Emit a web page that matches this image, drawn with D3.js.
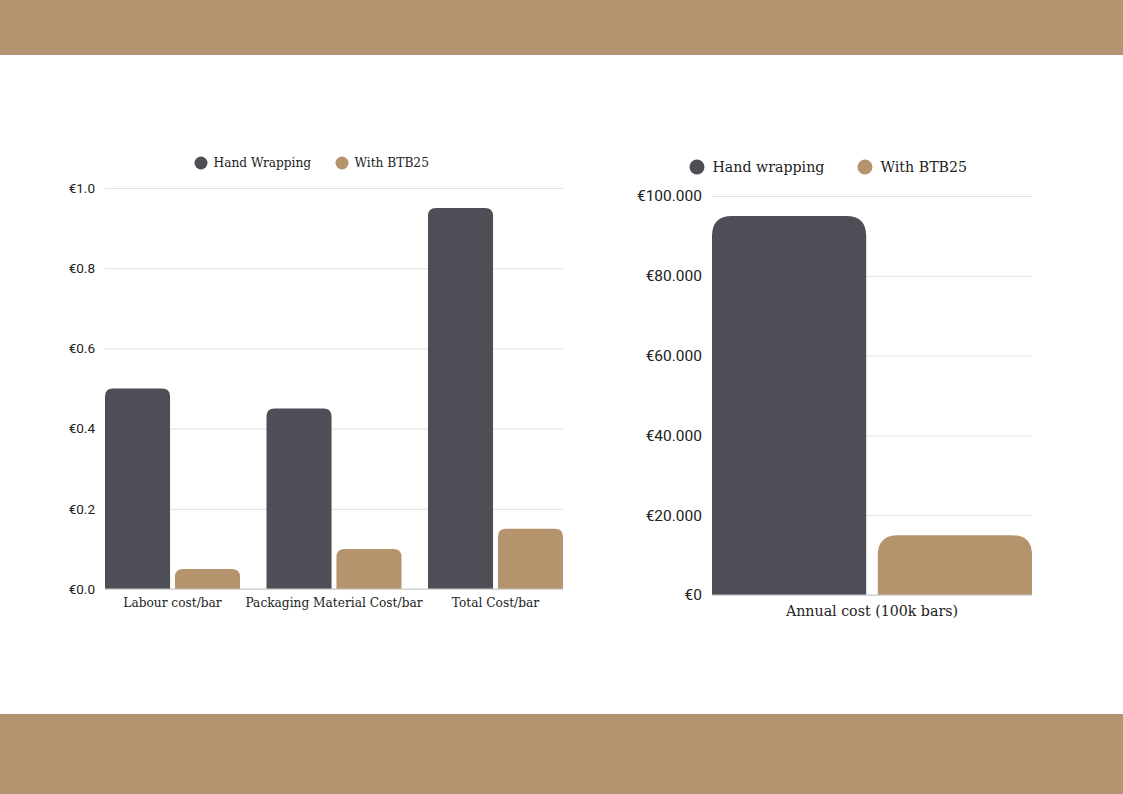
<!DOCTYPE html>
<html>
<head>
<meta charset="utf-8">
<script src="https://cdn.jsdelivr.net/npm/d3@7"></script>
<style>
  html, body { margin: 0; padding: 0; background: #fff; }
  svg { display: block; }
  .tick text { font-family: Roboto, "Noto Sans", sans-serif; fill: #222; }
  .slab { font-family: "DejaVu Serif", serif; fill: #222; }
</style>
</head>
<body>
<svg id="chart" width="1123" height="794"></svg>
<script>
// Per-bar costs (left chart)
const costCategories = ['Labour cost/bar', 'Packaging Material Cost/bar', 'Total Cost/bar'];
const handPerBar = [0.5, 0.45, 0.95];
const btbPerBar = [0.05, 0.1, 0.15];
const perBarTicks = [0, 0.2, 0.4, 0.6, 0.8, 1.0];

// Annual costs (right chart)
const annualCategories = ['Annual cost (100k bars)'];
const handAnnual = [95000];
const btbAnnual = [15000];
const annualTicks = [0, 20000, 40000, 60000, 80000, 100000];

const seriesLeft = ['Hand Wrapping', 'With BTB25'];
const seriesRight = ['Hand wrapping', 'With BTB25'];
const colors = ['#4e4e57', '#b5946d'];
const bandColor = '#b39470';

const svg = d3.select('#chart');

// page bands
svg.append('rect').attr('x', 0).attr('y', 0).attr('width', 1123).attr('height', 55).attr('fill', bandColor);
svg.append('rect').attr('x', 0).attr('y', 714).attr('width', 1123).attr('height', 80).attr('fill', bandColor);

// path for a bar with rounded top corners only
const topRounded = (x, y, w, h, r) => {
  r = Math.min(r, w / 2, h);
  return `M${x},${y + h}V${y + r}Q${x},${y} ${x + r},${y}H${x + w - r}Q${x + w},${y} ${x + w},${y + r}V${y + h}Z`;
};

const drawChart = ({ g, categories, values, ticks, xRange, yRange, fmt, tickSize,
  labelSize, labelDy, radius, padInner, legend }) => {
  const x0 = d3.scaleBand().domain(categories).range(xRange).paddingInner(padInner).paddingOuter(0);
  const x1 = d3.scaleBand().domain([0, 1]).range([0, x0.bandwidth()]).paddingInner(0.07);
  const y = d3.scaleLinear().domain([ticks[0], ticks[ticks.length - 1]]).range(yRange);

  // gridlines + tick labels
  const axis = g.append('g')
    .attr('transform', `translate(${xRange[0]},0)`)
    .call(d3.axisLeft(y).tickValues(ticks).tickFormat(fmt).tickSize(-(xRange[1] - xRange[0])).tickPadding(10));
  axis.select('.domain').remove();
  axis.selectAll('.tick line').attr('stroke', '#e2e2e2');
  axis.selectAll('.tick text').attr('font-size', tickSize);

  // bars
  categories.forEach((c, i) => {
    values.forEach((vals, s) => {
      const bx = x0(c) + x1(s);
      const by = y(vals[i]);
      g.append('path')
        .attr('d', topRounded(bx, by, x1.bandwidth(), y(0) - by, radius))
        .attr('fill', colors[s]);
    });
    g.append('text')
      .attr('class', 'slab')
      .attr('x', x0(c) + x0.bandwidth() / 2)
      .attr('y', y(0) + labelDy)
      .attr('text-anchor', 'middle')
      .attr('font-size', labelSize)
      .text(c);
  });

  // baseline
  g.append('line')
    .attr('x1', xRange[0]).attr('x2', xRange[1])
    .attr('y1', y(0)).attr('y2', y(0))
    .attr('stroke', '#c8c8c8');

  // legend
  legend.names.forEach((name, s) => {
    g.append('circle')
      .attr('cx', legend.x[s]).attr('cy', legend.y)
      .attr('r', legend.r).attr('fill', colors[s]);
    g.append('text')
      .attr('class', 'slab')
      .attr('x', legend.x[s] + legend.r + legend.gap)
      .attr('y', legend.y)
      .attr('dy', '0.35em')
      .attr('font-size', labelSize)
      .text(name);
  });
};

const euroDec = d => '€' + d3.format('.1f')(d);
const euroInt = d => '€' + d3.format(',')(d).replace(/,/g, '.');

drawChart({
  g: svg.append('g'),
  categories: costCategories,
  values: [handPerBar, btbPerBar],
  ticks: perBarTicks,
  xRange: [105, 563],
  yRange: [589, 188],
  fmt: euroDec,
  tickSize: 13.5,
  labelSize: 12.2,
  labelDy: 18,
  radius: 8,
  padInner: 0.164,
  legend: { names: seriesLeft, x: [201, 342], y: 163, r: 6.5, gap: 6 }
});

drawChart({
  g: svg.append('g'),
  categories: annualCategories,
  values: [handAnnual, btbAnnual],
  ticks: annualTicks,
  xRange: [712, 1032],
  yRange: [595, 196],
  fmt: euroInt,
  tickSize: 15.5,
  labelSize: 14.2,
  labelDy: 21,
  radius: 20,
  padInner: 0,
  legend: { names: seriesRight, x: [697, 865], y: 167, r: 7.5, gap: 8 }
});
</script>
</body>
</html>
